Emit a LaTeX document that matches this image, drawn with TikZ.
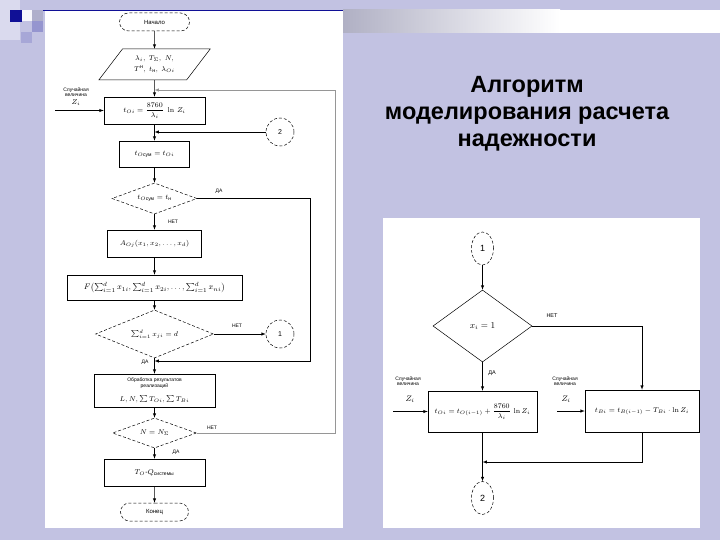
\documentclass[tikz,border=0pt]{standalone}
\usepackage[no-math]{fontspec}
\setmainfont{Liberation Sans}
\usepackage{amsmath}
\usepackage{xcolor}
\usetikzlibrary{shapes.geometric}
\usetikzlibrary{shapes.misc}
\usetikzlibrary{arrows}

\definecolor{slidebg}{RGB}{194,194,226}
\definecolor{navy}{RGB}{16,16,150}
\definecolor{bandgray}{RGB}{176,176,196}
\definecolor{fadeline}{RGB}{150,150,150}

\begin{document}
\begin{tikzpicture}[x=1pt, y=-1pt, >=latex, line width=0.5pt,
  every node/.style={font=\fontsize{7}{8}\selectfont},
  blk/.style={draw, rectangle, inner sep=1pt},
  dec/.style={draw, densely dashed, diamond, aspect=2.7, inner sep=0pt},
  term/.style={draw, densely dashed, rounded rectangle, inner sep=1pt, font=\fontsize{6}{7}\selectfont},
  conn/.style={draw, densely dashed, circle, minimum size=28, inner sep=0pt},
  connr/.style={draw, densely dashed, ellipse, minimum width=22, minimum height=33, inner sep=0pt, font=\fontsize{9}{10}\selectfont},
  inbox/.style={draw, trapezium, trapezium left angle=49, trapezium right angle=131, trapezium stretches=true, inner sep=0pt, align=center},
  lbl/.style={font=\fontsize{5}{5.5}\selectfont, align=center, inner sep=0pt},
  fade/.style={draw=fadeline}]

% slide background
\fill[slidebg] (0,0) rectangle (720,540);
\fill[white] (45,10) rectangle (343,528);
\fill[white] (383,218) rectangle (700,528);
\shade[left color=bandgray, right color=white] (343,10) rectangle (560,33);
\fill[white] (560,10) rectangle (720,33);
\fill[slidebg!60!white] (0,0) rectangle (20,40);
\fill[navy] (10,10) rectangle (22,22);
\fill[white!85!slidebg] (22,10) rectangle (32,21);
\fill[slidebg!90!black] (32,10) rectangle (43,21);
\fill[slidebg!75!navy] (32,21) rectangle (43,32);
\fill[slidebg!85!navy] (21,32) rectangle (32,43);
\draw[navy, line width=1pt] (43,10.5) -- (343,10.5);

\node[font=\fontsize{23.5}{27}\selectfont\bfseries, align=center] (title) at (527,114)
  {Алгоритм\\моделирования расчета\\надежности};

% left chart
\node[term, minimum width=72, minimum height=18] (start) at (154.5,22) {Начало};
\node[inbox, minimum width=112, minimum height=31, font=\fontsize{7.5}{11}\selectfont] (inp) at (154.5,64.5)
  {$\lambda_i,\ T_\Sigma,\ N,$\\$T^{\text{н}},\ t_{\text{н}},\ \lambda_{Oi}$};
\node[blk, minimum width=101, minimum height=27, font=\fontsize{7.5}{8.5}\selectfont] (calc1) at (154.5,110.5)
  {$t_{Oi} = \dfrac{8760}{\lambda_i}\;\ln\, Z_i$};
\node[lbl] (rnd1) at (76,92) {Случайная\\величина};
\node[font=\fontsize{7}{8}\selectfont] (z1) at (76,103) {$Z_i$};
\coordinate (z1in) at (55,110.5);
\node[conn] (c2) at (280,132) {2};
\coordinate (j2) at (154.5,132);
\node[blk, minimum width=70, minimum height=26] (sum) at (154.5,154) {$t_{O\text{сум}} = t_{Oi}$};
\node[dec, minimum width=85, minimum height=31] (d1) at (154.5,198.5) {$t_{O\text{сум}} = t_{\text{н}}$};
\node[lbl] (d1yes) at (219,191) {ДА};
\node[lbl] (d1no) at (173,222) {НЕТ};
\node[blk, minimum width=94, minimum height=27] (aoj) at (154.5,243.5) {$A_{Oj}(x_1, x_2, \ldots, x_d)$};
\node[blk, minimum width=175, minimum height=25, font=\fontsize{8}{9}\selectfont] (fsum) at (154.5,287.5)
  {$F\bigl(\sum_{i=1}^{d} x_{1i}, \sum_{i=1}^{d} x_{2i}, \ldots, \sum_{i=1}^{d} x_{ni}\bigr)$};
\node[dec, minimum width=118, minimum height=48] (d2) at (154.5,334) {$\sum_{i=1}^{d} x_{ji} = d$};
\node[lbl] (d2no) at (237,326) {НЕТ};
\node[conn] (c1) at (280,334) {1};
\node[lbl] (d2yes) at (145,362) {ДА};
\coordinate (j1) at (154.5,361);
\coordinate (daR) at (310,361);
\node[blk, minimum width=121, minimum height=33, align=center, font=\fontsize{5}{6}\selectfont] (res) at (154.5,390.5)
  {Обработка результатов\\реализаций\\[6pt]{\fontsize{7}{8}\selectfont$L, N, \sum T_{Oi}, \sum T_{Bi}$}};
\node[dec, minimum width=84, minimum height=30] (d3) at (154.5,433) {$N = N_\Sigma$};
\node[lbl] (d3no) at (212,428) {НЕТ};
\node[lbl] (d3yes) at (176,452) {ДА};
\coordinate (loopR) at (335,90);
\coordinate (j0) at (154.5,90);
\node[blk, minimum width=101, minimum height=27] (tq) at (154.5,472.5) {$T_O$-$Q_{\text{системы}}$};
\node[term, minimum width=70, minimum height=18] (stop) at (154.5,512) {Конец};

\draw[->] (start) -- (inp);
\draw[->] (inp) -- (calc1);
\draw[->] (z1in) -- (calc1.west);
\draw[->] (calc1) -- (sum);
\draw[->] (c2) -- (j2);
\draw[->] (sum) -- (d1);
\draw[->] (d1) -- (aoj);
\draw[->] (aoj) -- (fsum);
\draw[->] (fsum) -- (d2);
\draw[->] (d2) -- (c1);
\draw[->] (d1.east) -| (daR) -- (j1);
\draw[->] (d2) -- (res);
\draw[->] (res) -- (d3);
\draw[->, fade] (d3.east) -| (loopR) -- (j0);
\draw[->] (d3) -- (tq);
\draw[->] (tq) -- (stop);

% right chart
\node[connr] (r1) at (482.5,248.5) {1};
\node[draw, diamond, aspect=1.4, inner sep=0pt, minimum width=99, minimum height=72,
  font=\fontsize{9}{10}\selectfont] (rd) at (482.5,326) {$x_i = 1$};
\node[lbl, font=\fontsize{5.5}{6}\selectfont] (rdno) at (552,316) {НЕТ};
\node[lbl, font=\fontsize{5.5}{6}\selectfont] (rdyes) at (492,373) {ДА};
\node[blk, minimum width=109, minimum height=41, font=\fontsize{7.5}{8.5}\selectfont] (rl) at (482.5,411.5)
  {$t_{Oi} = t_{O(i-1)} + \dfrac{8760}{\lambda_i}\,\ln Z_i$};
\node[blk, minimum width=114, minimum height=42, font=\fontsize{7.5}{8.5}\selectfont] (rr) at (642,411)
  {$t_{Bi} = t_{B(i-1)} - T_{Bi}\cdot\ln Z_i$};
\node[lbl] (rnd2) at (408,381) {Случайная\\величина};
\node[font=\fontsize{8}{9}\selectfont] (z2) at (410,399) {$Z_i$};
\coordinate (z2in) at (393,411.5);
\node[lbl] (rnd3) at (565,381) {Случайная\\величина};
\node[font=\fontsize{8}{9}\selectfont] (z3) at (566,399) {$Z_i$};
\coordinate (z3in) at (557,411);
\coordinate (rj) at (482.5,462);
\node[connr] (r2) at (482.5,498) {2};

\draw[->] (r1) -- (rd);
\draw[->] (rd) -- (rl);
\draw[->] (rd.east) -| (rr.north);
\draw[->] (z2in) -- (rl.west);
\draw[->] (z3in) -- (rr.west);
\draw[->] (rr.south) |- (rj);
\draw[->] (rl) -- (r2);
\end{tikzpicture}
\end{document}
